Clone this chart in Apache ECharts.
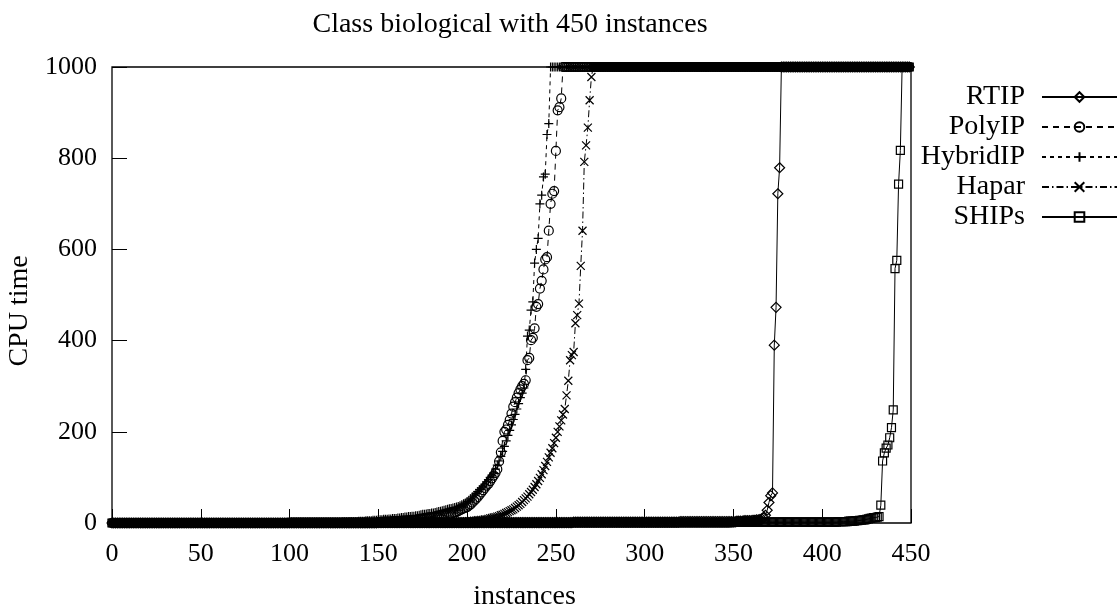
<!DOCTYPE html>
<html><head><meta charset="utf-8">
<script src="https://cdn.jsdelivr.net/npm/echarts@6/dist/echarts.min.js"></script>
<style>html,body{margin:0;padding:0;background:#fff}#c{width:1119px;height:607px}</style>
</head><body><div id="c"></div>
<script>
const titleText = 'Class biological with 450 instances';
const xName = 'instances';
const yName = 'CPU time';
const seriesNames = ['RTIP', 'PolyIP', 'HybridIP', 'Hapar', 'SHIPs'];
const xTicks = [0, 50, 100, 150, 200, 250, 300, 350, 400, 450];
const yTicks = [0, 200, 400, 600, 800, 1000];

// sorted CPU times, instance index 0..449
const rtip = [
/*0*/ 0,0,0,0,0,0,0,0,0,0, 0,0,0,0,0,0,0,0,0,0, 0,0,0,0,0,0,0,0,0,0, 0,0,0,0,0,0,0,0,0,0, 0,0,0,0,0,0,0,0,0,0,
/*50*/ 0,0,0,0,0,0,0,0,0,0, 0,0,0,0,0,0,0,0,0,0, 0,0,0,0,0,0,0,0,0,0, 0,0,0,0,0,0,0,0,0,0, 0,0,0,0,0,0,0,0,0,0,
/*100*/ 0,0,0,0,0,0,0,0,0,0, 0,0,0,0,0,0,0,0,0,0, 0,0,0,0,0,0,0,0,0,0, 0,0,0,0,0,0,0,0,0,0, 0,0,0,0,0,0,0,0,0,0,
/*150*/ 1,1,1,1,1,1,1,1,1,1, 1,1,1,1,1,1,1,1,1,1, 1,1,1,1,1,1,1,1,1,1, 1,1,1,1,1,1,1,1,1,1, 1,1,1,1,1,1,1,1,1,1,
/*200*/ 1,1,1,1,1,1,1,1,1,1, 1,1,1,1,1,1,1,1,1,1, 1,1,1,1,1,1,1,1,1,1, 1,1,1,1,1,1,1,1,1,1, 1,1,1,1,1,1,1,1,1,1,
/*250*/ 1,1,1,1,1,1,1,1,1,1, 2,2,2,2,2,2,2,2,2,2, 2,2,2,2,2,2,2,2,2,2, 2,2,2,2,2,2,2,2,2,2, 2,2,2,2,2,2,2,2,2,2,
/*300*/ 2,2,2,2,2,2,2,2,2,2, 2,2,2,2,2,2,2,2,2,2, 3,3,3,3,3,3,3,3,3,3, 3,3,3,3,3,3,3,3,3,3, 3,3,3,3,3,3,3,3,3,3,
/*350*/ 3,3,4,4,4,4,5,5,5,5, 5,6,6,7,7,8,9,11,17,28, 45,60,66,390,473,722,779,1000,1000,1000, 1000,1000,1000,1000,1000,1000,1000,1000,1000,1000, 1000,1000,1000,1000,1000,1000,1000,1000,1000,1000,
/*400*/ 1000,1000,1000,1000,1000,1000,1000,1000,1000,1000, 1000,1000,1000,1000,1000,1000,1000,1000,1000,1000, 1000,1000,1000,1000,1000,1000,1000,1000,1000,1000, 1000,1000,1000,1000,1000,1000,1000,1000,1000,1000, 1000,1000,1000,1000,1000,1000,1000,1000,1000,1000
];
const polyip = [
/*0*/ 0,0,0,0,0,0,0,0,0,0, 0,0,0,0,0,0,0,0,0,0, 0,0,0,0,0,0,0,0,0,0, 0,0,0,0,0,0,0,0,0,0, 0,0,0,0,0,0,0,0,0,0,
/*50*/ 0,0,0,0,0,0,0,0,0,0, 0,0,0,0,0,0,0,0,0,0, 0,0,0,0,0,0,0,0,0,0, 0,0,0,0,0,0,0,0,0,0, 0,0,0,0,0,0,0,0,0,0,
/*100*/ 1,1,1,1,1,1,1,1,1,1, 1,1,1,1,1,1,1,1,1,1, 1,1,1,1,1,1,1,1,1,1, 1,1,1,1,1,1,1,1,1,1, 1,1,1,1,1,1,1,1,1,1,
/*150*/ 2,2,2,3,3,3,3,3,4,4, 4,4,4,5,5,5,6,6,6,7, 7,7,8,8,9,9,10,10,11,11, 12,12,13,13,14,15,16,16,17,18, 19,20,22,23,24,26,28,30,32,33,
/*200*/ 35,38,41,45,49,53,57,62,67,72, 77,82,86,92,98,104,110,118,135,155, 180,200,205,215,226,240,255,265,275,285, 293,300,305,313,357,362,401,406,427,474, 480,514,531,556,578,583,641,700,722,728,
/*250*/ 816,905,912,931,1000,1000,1000,1000,1000,1000, 1000,1000,1000,1000,1000,1000,1000,1000,1000,1000, 1000,1000,1000,1000,1000,1000,1000,1000,1000,1000, 1000,1000,1000,1000,1000,1000,1000,1000,1000,1000, 1000,1000,1000,1000,1000,1000,1000,1000,1000,1000,
/*300*/ 1000,1000,1000,1000,1000,1000,1000,1000,1000,1000, 1000,1000,1000,1000,1000,1000,1000,1000,1000,1000, 1000,1000,1000,1000,1000,1000,1000,1000,1000,1000, 1000,1000,1000,1000,1000,1000,1000,1000,1000,1000, 1000,1000,1000,1000,1000,1000,1000,1000,1000,1000,
/*350*/ 1000,1000,1000,1000,1000,1000,1000,1000,1000,1000, 1000,1000,1000,1000,1000,1000,1000,1000,1000,1000, 1000,1000,1000,1000,1000,1000,1000,1000,1000,1000, 1000,1000,1000,1000,1000,1000,1000,1000,1000,1000, 1000,1000,1000,1000,1000,1000,1000,1000,1000,1000,
/*400*/ 1000,1000,1000,1000,1000,1000,1000,1000,1000,1000, 1000,1000,1000,1000,1000,1000,1000,1000,1000,1000, 1000,1000,1000,1000,1000,1000,1000,1000,1000,1000, 1000,1000,1000,1000,1000,1000,1000,1000,1000,1000, 1000,1000,1000,1000,1000,1000,1000,1000,1000,1000
];
const hybridip = [
/*0*/ 0,0,0,0,0,0,0,0,0,0, 0,0,0,0,0,0,0,0,0,0, 0,0,0,0,0,0,0,0,0,0, 0,0,0,0,0,0,0,0,0,0, 0,0,0,0,0,0,0,0,0,0,
/*50*/ 0,0,0,0,0,0,0,0,0,0, 0,0,0,0,0,0,0,0,0,0, 0,0,0,0,0,0,0,0,0,0, 0,0,0,0,0,0,0,0,0,0, 1,1,1,1,1,1,1,1,1,1,
/*100*/ 1,1,1,1,1,1,1,1,1,1, 1,1,1,1,1,1,1,1,1,1, 1,1,1,1,1,1,1,1,1,1, 2,2,2,2,3,3,3,3,3,4, 4,4,4,5,5,5,5,6,6,6,
/*150*/ 7,7,7,8,8,8,9,9,10,10, 10,11,11,12,12,13,13,14,14,15, 15,16,16,17,18,19,19,20,21,21, 22,22,23,24,25,26,27,28,29,30, 31,32,33,34,35,36,38,40,42,44,
/*200*/ 47,50,53,57,61,65,69,73,77,81, 85,90,95,100,105,110,118,127,136,146, 157,168,180,192,203,215,227,238,250,262, 275,285,296,337,410,423,467,485,570,600, 624,700,719,759,765,852,876,1000,1000,1000,
/*250*/ 1000,1000,1000,1000,1000,1000,1000,1000,1000,1000, 1000,1000,1000,1000,1000,1000,1000,1000,1000,1000, 1000,1000,1000,1000,1000,1000,1000,1000,1000,1000, 1000,1000,1000,1000,1000,1000,1000,1000,1000,1000, 1000,1000,1000,1000,1000,1000,1000,1000,1000,1000,
/*300*/ 1000,1000,1000,1000,1000,1000,1000,1000,1000,1000, 1000,1000,1000,1000,1000,1000,1000,1000,1000,1000, 1000,1000,1000,1000,1000,1000,1000,1000,1000,1000, 1000,1000,1000,1000,1000,1000,1000,1000,1000,1000, 1000,1000,1000,1000,1000,1000,1000,1000,1000,1000,
/*350*/ 1000,1000,1000,1000,1000,1000,1000,1000,1000,1000, 1000,1000,1000,1000,1000,1000,1000,1000,1000,1000, 1000,1000,1000,1000,1000,1000,1000,1000,1000,1000, 1000,1000,1000,1000,1000,1000,1000,1000,1000,1000, 1000,1000,1000,1000,1000,1000,1000,1000,1000,1000,
/*400*/ 1000,1000,1000,1000,1000,1000,1000,1000,1000,1000, 1000,1000,1000,1000,1000,1000,1000,1000,1000,1000, 1000,1000,1000,1000,1000,1000,1000,1000,1000,1000, 1000,1000,1000,1000,1000,1000,1000,1000,1000,1000, 1000,1000,1000,1000,1000,1000,1000,1000,1000,1000
];
const hapar = [
/*0*/ 0,0,0,0,0,0,0,0,0,0, 0,0,0,0,0,0,0,0,0,0, 0,0,0,0,0,0,0,0,0,0, 0,0,0,0,0,0,0,0,0,0, 0,0,0,0,0,0,0,0,0,0,
/*50*/ 0,0,0,0,0,0,0,0,0,0, 0,0,0,0,0,0,0,0,0,0, 0,0,0,0,0,0,0,0,0,0, 0,0,0,0,0,0,0,0,0,0, 0,0,0,0,0,0,0,0,0,0,
/*100*/ 0,0,0,0,0,0,0,0,0,0, 0,0,0,0,0,0,0,0,0,0, 0,0,0,0,0,0,0,0,0,0, 0,0,0,0,0,0,0,0,0,0, 0,0,0,0,0,0,0,0,0,0,
/*150*/ 1,1,1,1,1,1,1,1,1,1, 1,1,1,1,1,1,1,1,1,1, 1,1,1,1,1,1,1,1,1,1, 1,1,1,1,1,1,1,1,1,1, 1,1,1,1,1,1,1,1,1,1,
/*200*/ 3,3,4,4,5,5,6,6,7,7, 8,8,9,10,11,12,13,14,15,17, 18,20,22,24,26,28,30,33,36,39, 42,46,50,54,58,63,68,73,79,85, 92,99,107,116,125,134,144,154,164,175,
/*250*/ 187,200,212,225,238,250,280,312,357,368, 375,438,456,481,564,641,792,828,867,927, 978,1000,1000,1000,1000,1000,1000,1000,1000,1000, 1000,1000,1000,1000,1000,1000,1000,1000,1000,1000, 1000,1000,1000,1000,1000,1000,1000,1000,1000,1000,
/*300*/ 1000,1000,1000,1000,1000,1000,1000,1000,1000,1000, 1000,1000,1000,1000,1000,1000,1000,1000,1000,1000, 1000,1000,1000,1000,1000,1000,1000,1000,1000,1000, 1000,1000,1000,1000,1000,1000,1000,1000,1000,1000, 1000,1000,1000,1000,1000,1000,1000,1000,1000,1000,
/*350*/ 1000,1000,1000,1000,1000,1000,1000,1000,1000,1000, 1000,1000,1000,1000,1000,1000,1000,1000,1000,1000, 1000,1000,1000,1000,1000,1000,1000,1000,1000,1000, 1000,1000,1000,1000,1000,1000,1000,1000,1000,1000, 1000,1000,1000,1000,1000,1000,1000,1000,1000,1000,
/*400*/ 1000,1000,1000,1000,1000,1000,1000,1000,1000,1000, 1000,1000,1000,1000,1000,1000,1000,1000,1000,1000, 1000,1000,1000,1000,1000,1000,1000,1000,1000,1000, 1000,1000,1000,1000,1000,1000,1000,1000,1000,1000, 1000,1000,1000,1000,1000,1000,1000,1000,1000,1000
];
const ships = [
/*0*/ 0,0,0,0,0,0,0,0,0,0, 0,0,0,0,0,0,0,0,0,0, 0,0,0,0,0,0,0,0,0,0, 0,0,0,0,0,0,0,0,0,0, 0,0,0,0,0,0,0,0,0,0,
/*50*/ 0,0,0,0,0,0,0,0,0,0, 0,0,0,0,0,0,0,0,0,0, 0,0,0,0,0,0,0,0,0,0, 0,0,0,0,0,0,0,0,0,0, 0,0,0,0,0,0,0,0,0,0,
/*100*/ 0,0,0,0,0,0,0,0,0,0, 0,0,0,0,0,0,0,0,0,0, 0,0,0,0,0,0,0,0,0,0, 0,0,0,0,0,0,0,0,0,0, 0,0,0,0,0,0,0,0,0,0,
/*150*/ 0,0,0,0,0,0,0,0,0,0, 0,0,0,0,0,0,0,0,0,0, 0,0,0,0,0,0,0,0,0,0, 0,0,0,0,0,0,0,0,0,0, 0,0,0,0,0,0,0,0,0,0,
/*200*/ 1,1,1,1,1,1,1,1,1,1, 1,1,1,1,1,1,1,1,1,1, 1,1,1,1,1,1,1,1,1,1, 1,1,1,1,1,1,1,1,1,1, 1,1,1,1,1,1,1,1,1,1,
/*250*/ 1,1,1,1,1,1,1,1,1,1, 1,1,1,1,1,1,1,1,1,1, 1,1,1,1,1,1,1,1,1,1, 1,1,1,1,1,1,1,1,1,1, 1,1,1,1,1,1,1,1,1,1,
/*300*/ 1,1,1,1,1,1,1,1,1,1, 1,1,1,1,1,1,1,1,1,1, 1,1,1,1,1,1,1,1,1,1, 1,1,1,1,1,1,1,1,1,1, 1,1,1,1,1,1,1,1,1,1,
/*350*/ 2,2,2,2,2,2,2,2,2,2, 2,2,2,2,2,2,2,2,2,2, 2,2,2,2,2,2,2,2,2,2, 2,2,2,2,2,2,2,2,2,2, 2,2,2,2,2,2,2,2,2,2,
/*400*/ 2,2,2,2,2,2,2,2,2,3, 3,3,3,3,3,4,4,4,4,5, 5,6,6,7,7,8,9,10,11,12, 12,13,14,39,136,154,164,171,187,209, 248,558,576,743,817,1000,1000,1000,1000,1000
];

const seriesValues = [rtip, polyip, hybridip, hapar, ships];
const symbols = ['diamond', 'circle', 'path://M0,5L10,5M5,0L5,10', 'path://M0,0L10,10M10,0L0,10', 'rect'];
const symbolSizes = [10, 9, 9, 8, 8];
const dashes = ['solid', [6, 5], [4, 4], [7, 3, 1.5, 3], 'solid'];

const FONT = '"Liberation Serif", "Times New Roman", serif';
const chart = echarts.init(document.getElementById('c'), null, {renderer: 'canvas'});

const series = seriesNames.map((name, k) => ({
  name: name,
  type: 'line',
  data: seriesValues[k].map((v, i) => [i, v]),
  symbol: symbols[k],
  symbolSize: symbolSizes[k],
  showSymbol: true,
  showAllSymbol: true,
  clip: false,
  lineStyle: {color: '#000', width: 1, type: dashes[k]},
  itemStyle: {color: 'rgba(0,0,0,0)', borderColor: '#000', borderWidth: 1.2},
  emphasis: {disabled: true},
  z: 2 + k
}));

chart.setOption({
  animation: false,
  backgroundColor: '#fff',
  title: {
    text: titleText, left: 505, top: 6, textAlign: 'center',
    textStyle: {fontFamily: FONT, fontSize: 28, fontWeight: 'normal', color: '#000'}
  },
  legend: {
    orient: 'vertical', align: 'right', right: 1, top: 82, padding: 0,
    itemWidth: 75, itemHeight: 12, itemGap: 0,
    data: seriesNames,
    textStyle: {fontFamily: FONT, fontSize: 28, color: '#000', lineHeight: 30, padding: [0, 12, 0, 0]}
  },
  grid: {
    left: 112, right: 208, top: 67, bottom: 84,
    containLabel: false, outerBoundsMode: 'none',
    show: true, borderColor: '#000', borderWidth: 1.3, backgroundColor: 'rgba(0,0,0,0)'
  },
  xAxis: {
    type: 'value', min: xTicks[0], max: xTicks[xTicks.length - 1], interval: xTicks[1] - xTicks[0],
    name: xName, nameLocation: 'middle', nameGap: 60,
    nameTextStyle: {fontFamily: FONT, fontSize: 28, color: '#000', padding: [0, 0, 0, 26]},
    axisLine: {show: false},
    axisTick: {show: true, inside: true, length: 14, lineStyle: {color: '#000', width: 1}},
    axisLabel: {fontFamily: FONT, fontSize: 26, color: '#000', margin: 18, formatter: v => String(v)},
    splitLine: {show: false}
  },
  yAxis: {
    type: 'value', min: yTicks[0], max: yTicks[yTicks.length - 1], interval: yTicks[1] - yTicks[0],
    name: yName, nameLocation: 'middle', nameGap: 77, nameRotate: 90,
    nameTextStyle: {fontFamily: FONT, fontSize: 28, color: '#000', padding: [0, 32, 0, 0]},
    axisLine: {show: false},
    axisTick: {show: true, inside: true, length: 15, lineStyle: {color: '#000', width: 1}},
    axisLabel: {fontFamily: FONT, fontSize: 26, color: '#000', margin: 15, formatter: v => String(v)},
    splitLine: {show: false}
  },
  series: series
});
</script>
</body></html>
